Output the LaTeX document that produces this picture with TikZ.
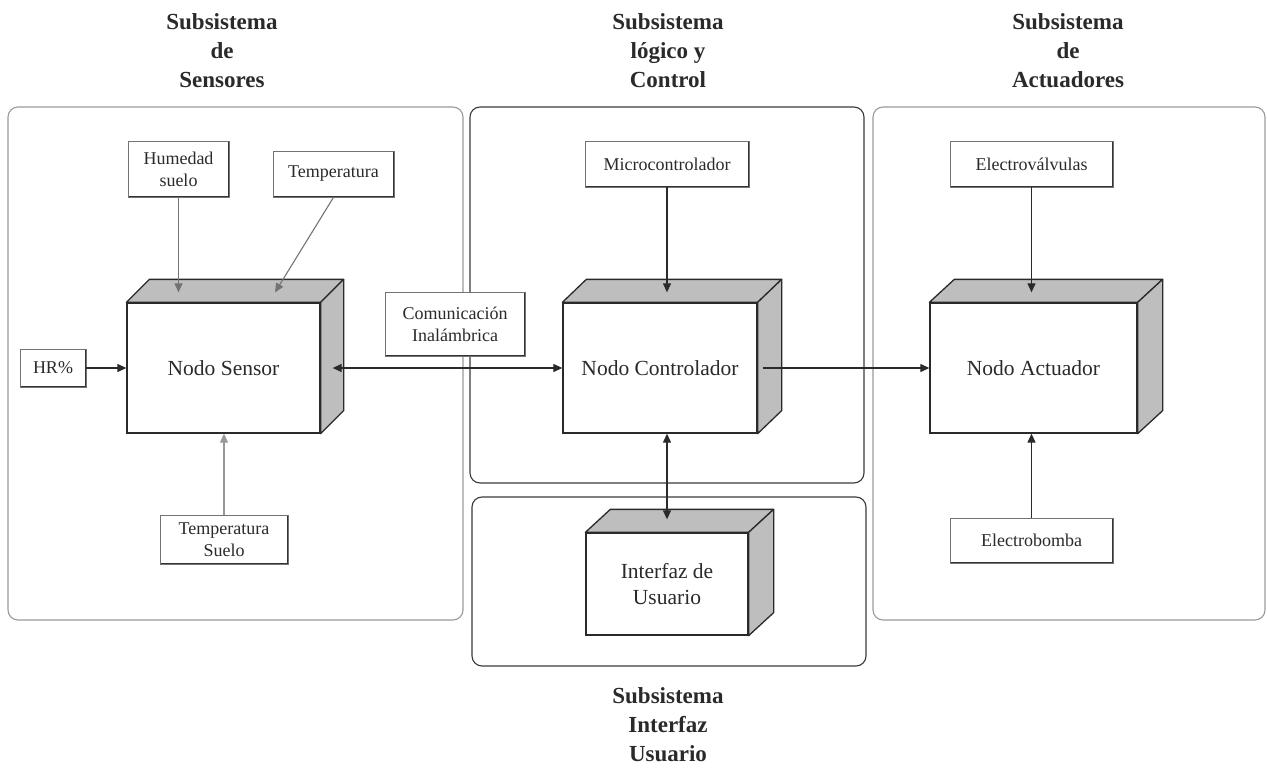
\documentclass[tikz,border=0pt]{standalone}
\usepackage{fontspec}
\setmainfont{Liberation Serif}
\usetikzlibrary{calc,arrows.meta}
\definecolor{ink}{HTML}{2A2A2A}
\definecolor{facegray}{HTML}{BEBEBE}
\definecolor{framegray}{HTML}{9A9A9A}
\definecolor{framedark}{HTML}{3A3A3A}

\tikzset{
  >={Triangle[length=9pt,width=8pt]},
  smallbox/.style={draw=black!55, line width=0.7pt, fill=white, align=center,
    inner sep=0pt, text=ink, font=\fontsize{18}{22}\selectfont,
    path picture={\draw[black!80, line width=2.6pt]
      (path picture bounding box.north east) -- (path picture bounding box.south east)
      -- (path picture bounding box.south west);}},
  frontface/.style={draw=ink, line width=1.3pt, fill=white, align=center,
    inner sep=0pt, text=ink, font=\fontsize{21.5}{26}\selectfont},
  sideface/.style={draw=ink, line width=1.3pt, fill=facegray, line join=round},
  frame/.style={rounded corners=10pt, line width=1.1pt},
  link/.style={draw=ink, line width=1.2pt},
  softlink/.style={draw=black!55, line width=1.1pt},
  paleline/.style={draw=black!40, line width=1.1pt},
  heading/.style={font=\fontsize{23}{29}\selectfont\bfseries, align=center, text=ink},
}

% top and right faces of a solid block drawn behind the front node #1
\newcommand\solidfaces[3]{%
  \filldraw[sideface] (#1.north west) -- ++(#2,-#3) -- ($(#1.north east)+(#2,-#3)$) -- (#1.north east) -- cycle;
  \filldraw[sideface] (#1.north east) -- ++(#2,-#3) -- ($(#1.south east)+(#2,-#3)$) -- (#1.south east) -- cycle;
}

\begin{document}
\begin{tikzpicture}[x=1pt,y=-1pt]
\useasboundingbox (0,0) rectangle (1267,768);

% subsystem frames
\draw[frame, draw=framegray] (8,107) rectangle (463,620);
\draw[frame, draw=framedark] (470,107) rectangle (864,483);
\draw[frame, draw=framedark] (472,497) rectangle (866,666);
\draw[frame, draw=framegray] (873,107) rectangle (1265,620);

% headings
\node[heading] (hsen) at (222,51) {Subsistema\\de\\Sensores};
\node[heading] (hctl) at (668,51) {Subsistema\\lógico y\\Control};
\node[heading] (hact) at (1068,51) {Subsistema\\de\\Actuadores};
\node[heading] (hui)  at (668,725) {Subsistema\\Interfaz\\Usuario};

% main blocks
\node[frontface, minimum width=193pt, minimum height=130pt] (sens) at (223.5,368) {Nodo Sensor};
\solidfaces{sens}{23}{23}
\node[frontface, minimum width=194pt, minimum height=130pt] (ctrl) at (660,368) {Nodo Controlador};
\solidfaces{ctrl}{24}{23}
\node[frontface, minimum width=207pt, minimum height=130pt] (act) at (1033.5,368) {Nodo Actuador};
\solidfaces{act}{25}{23}
\node[frontface, minimum width=162pt, minimum height=102pt] (ui) at (667,584) {Interfaz de\\Usuario};
\solidfaces{ui}{25}{23}

% sensors and peripherals
\node[smallbox, minimum width=101pt, minimum height=56pt] (hum) at (178.5,169) {Humedad\\suelo};
\node[smallbox, minimum width=121pt, minimum height=46pt] (temp) at (333.5,174) {Temperatura};
\node[smallbox, minimum width=66pt, minimum height=38pt] (hr) at (53,368) {HR\%};
\node[smallbox, minimum width=128pt, minimum height=49pt] (tsue) at (224,539.5) {Temperatura\\Suelo};
\node[smallbox, minimum width=140pt, minimum height=64pt] (com) at (455,324) {Comunicación\\Inalámbrica};
\node[smallbox, minimum width=164pt, minimum height=46pt] (mcu) at (667,164) {Microcontrolador};
\node[smallbox, minimum width=163pt, minimum height=46pt] (ev) at (1031.5,164) {Electroválvulas};
\node[smallbox, minimum width=163pt, minimum height=45pt] (eb) at (1031.5,540.5) {Electrobomba};

% connectors
\draw[softlink, ->] (hum.south) -- ($(hum.south |- sens.north)+(0,-10)$);
\draw[softlink, ->] (temp.south) -- ($(sens.north)+(51.5,-10)$);
\draw[link, ->] (hr.east) -- (sens.west);
\draw[paleline, ->] (tsue.north) -- (tsue.north |- sens.south);
\draw[link, <->] ($(sens.east)+(12,0)$) -- (ctrl.west);
\draw[link, ->] (mcu.south) -- ($(mcu.south |- ctrl.north)+(0,-10)$);
\draw[link, ->] ($(ctrl.east)+(5,0)$) -- (ctrl.east -| act.west);
\draw[link, <->] (ui.north |- ctrl.south) -- ($(ui.north)+(0,-13)$);
\draw[link, ->] (ev.south) -- ($(ev.south |- act.north)+(0,-10)$);
\draw[link, ->] (eb.north) -- (eb.north |- act.south);
\end{tikzpicture}
\end{document}
